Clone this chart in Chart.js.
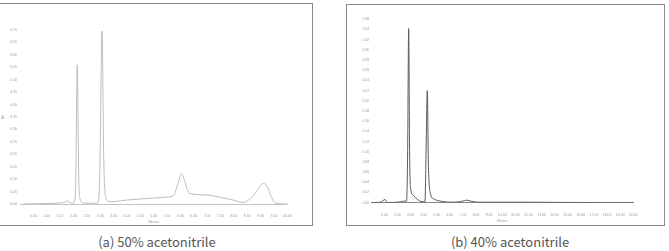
<!DOCTYPE html>
<html><head><meta charset="utf-8">
<script src="https://cdn.jsdelivr.net/npm/chart.js@4/dist/chart.umd.min.js"></script>
<style>
html,body{margin:0;padding:0;background:#fff;width:669px;height:251px;overflow:hidden;position:relative;font-family:"Noto Sans CJK KR","Noto Sans",sans-serif;}
.box{position:absolute;border:1.5px solid #8a8a8a;box-sizing:border-box;}
canvas{position:absolute;}
.cap{position:absolute;top:232px;font-size:13px;color:#555;text-align:center;white-space:nowrap;}
</style></head><body>
<div class="box" style="left:-2px;top:3px;width:315px;height:223px;"></div>
<div class="box" style="left:346px;top:4px;width:319px;height:222px;"></div>
<canvas id="ca" width="330" height="232" style="left:0;top:0;"></canvas>
<canvas id="cb" width="334" height="232" style="left:335px;top:0;"></canvas>
<div class="cap" style="left:57px;width:200px;">(a) 50% acetonitrile</div>
<div class="cap" style="left:410px;width:200px;">(b) 40% acetonitrile</div>
<script>
// (a) 50% acetonitrile
const timeA = [0.12,1.0,1.5,1.7,1.78,1.86,2.0,2.08,2.14,2.2,2.25,2.35,2.6,2.9,2.98,3.07,3.13,3.2,3.35,3.5,4.0,4.5,5.0,5.5,5.75,5.9,6.05,6.15,6.25,6.35,7.0,7.5,8.0,8.35,8.6,8.85,9.0,9.1,9.25,9.4,9.55,10.0];
const auA   = [0.0,0.002,0.004,0.008,0.013,0.006,0.003,0.06,0.56,0.10,0.02,0.005,0.003,0.003,0.10,0.696,0.20,0.03,0.010,0.010,0.016,0.020,0.024,0.028,0.035,0.08,0.123,0.095,0.06,0.043,0.036,0.027,0.015,0.006,0.02,0.05,0.075,0.083,0.07,0.03,0.004,0.0];
const yTicksA = [0,0.05,0.10,0.15,0.20,0.25,0.30,0.35,0.40,0.45,0.50,0.55,0.60,0.65,0.70];
const xTicksA = [0.5,1,1.5,2,2.5,3,3.5,4,4.5,5,5.5,6,6.5,7,7.5,8,8.5,9,9.5,10];

// (b) 40% acetonitrile
const timeB = [0.0,0.7,0.9,1.05,1.15,1.3,2.0,2.3,2.45,2.7,2.78,2.86,2.93,3.0,3.2,3.5,3.9,4.1,4.2,4.28,4.36,4.5,4.8,5.3,6.0,6.8,7.1,7.3,7.6,8.2,10.0,12.0,15.0,17.0,20.0];
const auB   = [0.0,0.001,0.004,0.0065,0.002,0.0005,0.001,0.002,0.003,0.003,0.10,0.342,0.10,0.03,0.015,0.007,0.002,0.002,0.12,0.22,0.08,0.02,0.007,0.003,0.001,0.002,0.004,0.005,0.003,0.001,0.001,0.001,0.0005,0.0003,0.0];
const yTicksB = [0,0.02,0.04,0.06,0.08,0.10,0.12,0.14,0.16,0.18,0.20,0.22,0.24,0.26,0.28,0.30,0.32,0.34,0.36];
const xTicksB = [1,2,3,4,5,6,7,8,9,10,11,12,13,14,15,16,17,18,19,20];

function makeChart(id, t, v, yT, xT, opt){
  const pts = t.map((x,i)=>({x:x,y:v[i]}));
  return new Chart(document.getElementById(id), {
    type:'line',
    data:{datasets:[{data:pts,borderColor:opt.color,borderWidth:1,pointRadius:0,cubicInterpolationMode:'monotone',fill:false}]},
    options:{
      responsive:false,animation:false,devicePixelRatio:1,
      plugins:{legend:{display:false},tooltip:{enabled:false}},
      layout:{padding:opt.pad},
      scales:{
        x:{type:'linear',min:0,max:xT[xT.length-1],
           afterFit:s=>{s.height=20;},
           afterBuildTicks:s=>{s.ticks=xT.map(v=>({value:v}));},
           grid:{display:false,drawTicks:false},
           border:{display:true,color:opt.axisColor,width:1},
           ticks:{autoSkip:false,maxRotation:0,padding:10,color:'#999',font:{size:3.5},callback:v=>Number(v).toFixed(2)},
           title:{display:true,text:'Minutes',color:'#999',font:{size:3},padding:0}},
        y:{min:0,max:yT[yT.length-1],
           afterFit:s=>{s.width=opt.yw;},
           afterBuildTicks:s=>{s.ticks=yT.map(v=>({value:v}));},
           grid:{display:false,drawTicks:false},
           border:{display:false},
           ticks:{autoSkip:false,padding:opt.ypad,color:'#999',font:{size:3.5},callback:v=>Number(v).toFixed(2)},
           title:{display:opt.yTitle,text:'AU',color:'#999',font:{size:3},padding:1}}
      }
    }
  });
}
makeChart('ca', timeA, auA, yTicksA, xTicksA, {color:'#bdbdbd',axisColor:'#c4c4c4',pad:{left:0,right:42.7,top:30,bottom:8},yw:20,ypad:3,yTitle:true});
makeChart('cb', timeB, auB, yTicksB, xTicksB, {color:'#5a5a5a',axisColor:'#8a8a8a',pad:{left:0,right:35.7,top:19.3,bottom:9.3},yw:36.2,ypad:2,yTitle:false});
</script>
</body></html>
